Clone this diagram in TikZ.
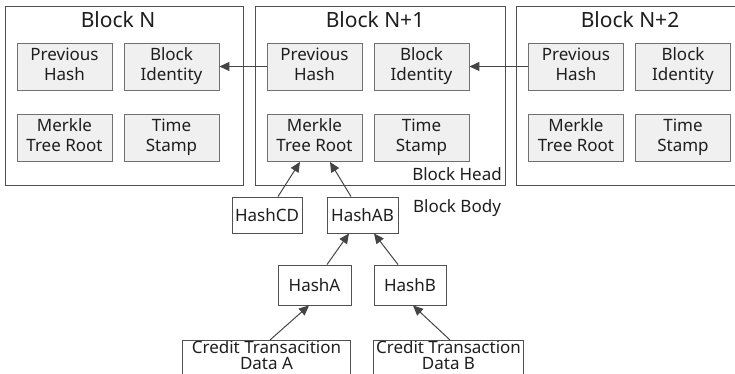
\documentclass[tikz,border=0pt]{standalone}
\usepackage{fontspec}
\setmainfont{Noto Sans}
\usetikzlibrary{calc,arrows.meta}
\definecolor{edgec}{HTML}{505050}
\definecolor{innerc}{HTML}{707070}
\definecolor{fillc}{HTML}{F0F0F0}
\definecolor{txtc}{HTML}{1E1E1E}
\newcommand{\ls}{\rule[-5pt]{0pt}{18pt}}
\tikzset{
  blockbox/.style={draw=edgec, line width=1pt, minimum width=#1, minimum height=178pt, inner sep=0pt},
  fieldbox/.style={draw=innerc, line width=0.9pt, fill=fillc, minimum width=95pt, minimum height=47pt, inner sep=0pt, align=center, font=\fontsize{17}{20}\selectfont, text=txtc},
  hashbox/.style={draw=edgec, line width=0.9pt, fill=white, inner sep=0pt, align=center, font=\fontsize{17}{20}\selectfont, text=txtc},
  datatxt/.style={inner sep=0pt, align=center, font=\fontsize{17}{20}\selectfont, text=txtc, anchor=north},
  openbox/.style={draw=edgec, line width=0.9pt},
  titletxt/.style={font=\fontsize{21}{25}\selectfont, text=txtc, inner sep=0pt},
  labeltxt/.style={font=\fontsize{17}{20}\selectfont, text=txtc, inner sep=0pt},
  conn/.style={draw=edgec!85!black, line width=1pt, -{Triangle[length=10pt,width=9pt]}},
}
\begin{document}
\begin{tikzpicture}[x=1pt,y=-1pt]
\useasboundingbox (0,0) rectangle (735,374);
\clip (0,0) rectangle (735,374);
% outer blocks
\node[blockbox=238pt] (bN) at (124,96) {};
\node[blockbox=250pt] (b1) at (380,96) {};
\node[blockbox=230pt] (b2) at (631,96) {};
% titles
\node[titletxt] (tN) at (118,20) {Block N};
\node[titletxt] (t1) at (375,20) {Block N+1};
\node[titletxt] (t2) at (630,20) {Block N+2};
% fields block N
\node[fieldbox] (phN) at (64.5,66.5) {\ls Previous\\\ls Hash};
\node[fieldbox] (biN) at (171.5,66.5) {\ls Block\\\ls Identity};
\node[fieldbox] (mrN) at (64.5,138) {\ls Merkle\\\ls Tree Root};
\node[fieldbox] (tsN) at (171.5,138) {\ls Time\\\ls Stamp};
% fields block N+1
\node[fieldbox] (ph1) at (314.5,66.5) {\ls Previous\\\ls Hash};
\node[fieldbox] (bi1) at (421.5,66.5) {\ls Block\\\ls Identity};
\node[fieldbox] (mr1) at (314.5,138) {\ls Merkle\\\ls Tree Root};
\node[fieldbox] (ts1) at (421.5,138) {\ls Time\\\ls Stamp};
% fields block N+2
\node[fieldbox] (ph2) at (576,66.5) {\ls Previous\\\ls Hash};
\node[fieldbox] (bi2) at (683,66.5) {\ls Block\\\ls Identity};
\node[fieldbox] (mr2) at (576,138) {\ls Merkle\\\ls Tree Root};
\node[fieldbox] (ts2) at (683,138) {\ls Time\\\ls Stamp};
% labels
\node[labeltxt, anchor=east] (head) at (502,174) {Block Head};
\node[labeltxt] (body) at (457,208) {Block Body};
% hash tree
\node[hashbox, minimum width=70pt, minimum height=36pt] (hcd) at (267,215) {HashCD};
\node[hashbox, minimum width=71pt, minimum height=36pt] (hab) at (362.5,215) {HashAB};
\node[hashbox, minimum width=73pt, minimum height=40pt] (ha) at (314.5,285) {HashA};
\node[hashbox, minimum width=72pt, minimum height=40pt] (hb) at (410,285) {HashB};
\node[datatxt, minimum width=167pt] (ca) at (266.5,340)
  {\rule{0pt}{13pt}Credit Transacition\\[-4pt]Data A};
\node[datatxt, minimum width=149pt] (cb) at (448.5,340)
  {\rule{0pt}{13pt}Credit Transaction\\[-4pt]Data B};
\draw[openbox] ($(ca.south west)+(0,20)$) -- (ca.north west) -- (ca.north east) -- ($(ca.south east)+(0,20)$);
\draw[openbox] ($(cb.south west)+(0,20)$) -- (cb.north west) -- (cb.north east) -- ($(cb.south east)+(0,20)$);
% connectors
\draw[conn] (ph1.west) -- (biN.east);
\draw[conn] (ph2.west) -- (bi1.east);
\draw[conn] ($(hcd.north)+(11,0)$) -- ($(mr1.south)+(-14.5,0)$);
\draw[conn] ($(hab.north)+(-11.5,0)$) -- ($(mr1.south)+(15.5,0)$);
\draw[conn] ($(ha.north)+(12.5,0)$) -- ($(hab.south)+(-13.5,0)$);
\draw[conn] ($(hb.north)+(-12,0)$) -- ($(hab.south)+(11.5,0)$);
\draw[conn] ($(ca.north)+(3.5,0)$) -- ($(ha.south)+(-5.5,0)$);
\draw[conn] ($(cb.north)+(1.5,0)$) -- ($(hb.south)+(3,0)$);
\end{tikzpicture}
\end{document}
